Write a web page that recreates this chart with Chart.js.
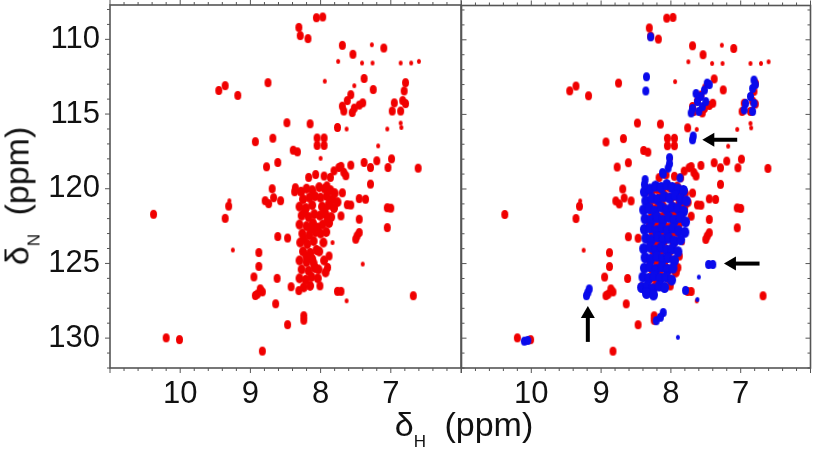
<!DOCTYPE html>
<html lang="en">
<head>
<meta charset="UTF-8">
<title>HSQC overlay</title>
<script src="https://cdn.jsdelivr.net/npm/chart.js"></script>
<style>
  body { margin: 0; background: #fff; }
  #wrap { position: relative; width: 816px; height: 450px; overflow: hidden;
          font-family: Arial, "Liberation Sans", sans-serif; color: #111; }
  canvas { position: absolute; top: 0; }
  #left { left: 0; }
  #right { left: 456px; }
  .ttl { position: absolute; font-size: 34px; line-height: 34px; white-space: nowrap;
         transform: translate(-50%, -50%); }
  .ttl sub { font-size: 17px; line-height: 0; vertical-align: -11px; margin-right: 9px; }
  #ytitle { left: 17px; top: 196px; transform: translate(-50%, -50%) rotate(-90deg); }
  #xtitle { left: 464px; top: 424px; }
</style>
</head>
<body>
<div id="wrap">
  <canvas id="left" width="466" height="450"></canvas>
  <canvas id="right" width="360" height="450"></canvas>
  <div class="ttl" id="ytitle">&delta;<sub>N</sub> (ppm)</div>
  <div class="ttl" id="xtitle">&delta;<sub>H</sub> (ppm)</div>
</div>
<script>
// tick labels
var xTicks = [10, 9, 8, 7];
var yTicks = [110, 115, 120, 125, 130];

// reference spectrum, [dH, dN] in ppm
var redPeaks = [
  [8.06,108.55],[7.97,108.5],[8.31,109.2],[8.29,109.75],[8.18,109.95],[7.69,110.4],[7.10,110.58],[7.54,111.0],
  [7.38,112.62],[7.25,113.36],[8.75,112.9],[9.45,113.42],[9.36,113.1],[9.18,113.75],
  [7.57,113.7],[7.62,114.1],[7.69,114.47],[7.67,114.8],[7.52,114.6],[7.45,114.4],[7.4,114.25],[7.55,114.9],
  [6.79,112.9],[6.81,113.45],[6.83,114.1],[6.79,114.3],[6.86,114.8],[6.95,114.25],[6.98,114.8],
  [7.76,115.9],[8.15,115.65],[8.48,115.58],
  [8.05,116.6],[7.95,116.6],[8.05,117.1],[7.95,117.1],
  [8.93,116.85],[8.68,116.62],[8.39,117.42],[8.33,117.53],[8.77,118.53],[8.61,118.24],
  [7.38,118.24],[7.29,118.58],[7.2,118.13],[6.99,118.0],[7.04,118.58],[6.61,118.62],
  [7.74,118.58],[7.67,118.9],[7.57,118.42],[7.64,119.13],[7.81,118.8],[7.71,118.5],
  [8.17,119.24],[8.07,119.05],[7.95,119.15],[7.86,119.24],[7.29,119.69],[7.91,119.8],
  [10.38,121.71],[9.31,121.16],[9.36,121.98],
  [8.69,120.0],[8.67,120.6],[8.79,120.8],[8.57,120.8],[8.74,121.0],[8.37,120.2],[8.36,119.93],
  [7.69,120.27],[7.62,121.07],[7.57,121.09],[7.45,120.66],[7.36,120.7],[7.05,121.27],[7.0,121.3],
  [7.45,122.04],[7.45,122.93],[7.5,123.38],[7.48,123.15],[7.05,122.6],[7.71,121.82],
  [8.61,123.2],[8.47,123.3],[8.88,124.27],[8.88,125.2],[8.95,125.9],[8.62,126.0],
  [8.86,126.7],[8.9,127.05],[8.83,126.9],[8.93,127.15],[8.64,127.7],[8.42,126.56],[8.31,126.82],[8.01,126.5],
  [7.76,126.87],[7.71,126.87],[8.24,128.5],[8.24,128.8],[8.47,129.1],[8.83,130.87],
  [10.2,129.98],[10.01,130.1],[6.68,127.16],[7.9,125.27],[7.88,124.5]
];
// crowded centre of the reference spectrum
var redCluster = [
  [8.28,120.2],[8.2,120.0],[8.12,120.1],[8.25,120.7],[8.16,120.6],[8.08,120.5],[8.3,121.2],[8.21,121.3],
  [8.12,121.1],[8.27,121.8],[8.17,121.9],[8.09,121.7],[8.3,122.4],[8.2,122.5],[8.11,122.3],[8.26,123.0],
  [8.16,123.1],[8.07,122.9],[8.29,123.6],[8.19,123.7],[8.1,123.5],[8.25,124.2],[8.15,124.3],[8.06,124.1],
  [8.3,124.8],[8.2,124.9],[8.12,124.7],[8.27,125.4],[8.17,125.5],[8.08,125.3],[8.3,126.0],[8.21,126.1],
  [8.13,125.9],[8.24,126.6],[8.15,126.5],[8.23,121.55],[8.14,122.7],[8.24,123.35],[8.2,124.55],[8.1,125.0],
  [8.02,119.9],[7.94,120.0],[7.86,120.1],[7.8,120.3],[8.0,120.6],[7.91,120.5],[7.83,120.7],[7.76,120.9],
  [7.98,121.2],[7.89,121.1],[7.81,121.3],[8.01,121.8],[7.93,121.7],[7.85,121.9],[7.97,122.4],[7.88,122.3],
  [8.0,123.0],[7.92,122.9],[7.96,123.6],[8.02,124.2],[7.95,124.8],[8.03,125.4],[7.93,125.6],[8.04,126.0],
  [7.95,121.45],[7.86,120.85],[7.9,122.1],[8.04,122.6]
];
var redWeak = [
  [7.27,110.36],[7.75,111.47],[7.41,111.58],[7.26,111.58],[6.86,111.58],[6.71,111.58],[6.6,111.47],
  [7.94,112.8],[7.52,113.1],[6.86,115.6],[6.85,115.9],[7.05,116.0],[7.63,116.0],[8.0,117.96],
  [7.18,117.13],[9.3,120.8],[9.25,124.1],[7.63,127.5],[7.4,125.04],[7.83,123.6]
];

// second spectrum, right panel only
var bluePeaks = [
  [8.29,109.8],[8.35,112.48],[8.36,113.43],
  [7.48,112.9],[7.52,113.37],[7.57,113.8],[7.62,114.14],[7.69,114.6],[7.71,114.9],[7.55,114.48],
  [7.6,114.8],[7.5,114.14],[7.64,113.6],[7.45,113.0],
  [6.81,112.7],[6.83,113.26],[6.86,113.8],[6.81,114.26],[6.83,114.8],[6.93,114.26],[6.95,114.7],[6.79,113.0],
  [7.69,116.7],[7.68,116.45],
  [8.02,117.9],[8.02,118.3],[8.04,118.6],[8.12,118.9],[8.11,119.0],[7.87,119.26],[8.37,119.37],[8.38,119.7],
  [7.79,126.8],[7.46,125.06],[7.4,125.06],
  [9.19,126.94],[9.17,126.7],[9.21,127.15],
  [10.1,130.2],[10.05,130.15],
  [8.21,128.83],[8.11,128.28],[8.15,128.6]
];
var blueCluster = [
  [8.38,120.2],[8.3,120.0],[8.22,119.8],[8.14,119.9],[8.06,119.7],[7.98,119.9],[7.9,120.0],[7.82,120.1],
  [8.36,120.8],[8.27,120.6],[8.19,120.7],[8.1,120.5],[8.02,120.6],[7.94,120.4],[7.86,120.7],[7.78,120.8],
  [8.39,121.4],[8.31,121.3],[8.23,121.5],[8.14,121.2],[8.06,121.4],[7.98,121.2],[7.9,121.3],[7.82,121.5],
  [8.37,122.0],[8.28,122.1],[8.2,121.9],[8.12,122.1],[8.03,121.9],[7.95,122.1],[7.87,121.9],[7.79,122.2],
  [8.38,122.7],[8.3,122.6],[8.21,122.8],[8.13,122.6],[8.05,122.8],[7.97,122.6],[7.89,122.8],[7.8,122.9],
  [8.36,123.3],[8.28,123.4],[8.19,123.2],[8.11,123.4],[8.03,123.3],[7.95,123.5],[7.86,123.4],
  [8.39,124.0],[8.3,123.9],[8.22,124.1],[8.14,123.9],[8.06,124.1],[7.98,124.0],[7.9,124.2],
  [8.37,124.6],[8.29,124.7],[8.2,124.5],[8.12,124.7],[8.04,124.6],[7.95,124.8],
  [8.38,125.3],[8.3,125.2],[8.21,125.4],[8.13,125.2],[8.05,125.4],[7.97,125.3],
  [8.4,125.9],[8.32,126.0],[8.24,125.8],[8.15,126.0],[8.07,125.9],[7.99,126.1],
  [8.42,126.6],[8.34,126.5],[8.26,126.7],[8.17,126.5],[8.09,126.6],[8.35,127.0],[8.25,127.1]
];
var blueWeak = [[7.62,127.4],[7.6,125.9],[7.9,129.94]];

// arrows in the right panel: tail -> tip
var arrows = [
  [[7.05,116.7],[7.55,116.7]],
  [[6.73,125.0],[7.24,125.0]],
  [[9.19,130.25],[9.19,127.85]]
];

var RED = 'rgb(240,0,0)';
var BLUE = 'rgb(10,10,235)';

// small oval used as the point marker (peaks are a bit taller than wide)
function blob(color, w, h) {
  var c = document.createElement('canvas');
  c.width = w + 2; c.height = h + 2;
  var g = c.getContext('2d');
  g.fillStyle = color;
  g.beginPath();
  g.ellipse(c.width / 2, c.height / 2, w / 2, h / 2, 0, 0, Math.PI * 2);
  g.fill();
  return c;
}

function pts(list) {
  return list.map(function (p) { return {x: p[0], y: p[1]}; });
}

function peakSet(list, color, w, h, order) {
  return {
    data: pts(list),
    backgroundColor: color,
    borderColor: color,
    pointStyle: blob(color, w, h),
    pointRadius: w / 2,
    order: order
  };
}

// box + small ticks round the panel
var frame = {
  id: 'frame',
  afterDraw: function (chart, args, opts) {
    var ctx = chart.ctx, a = chart.chartArea;
    var sx = chart.scales.x, sy = chart.scales.y;
    ctx.save();
    ctx.strokeStyle = '#555';
    ctx.lineWidth = 1;
    ctx.beginPath();
    for (var i = 30; i <= 55; i++) {
      var px = sx.getPixelForValue(i / 5);
      var len = (i % 5 === 0) ? 5 : 3;
      ctx.moveTo(px, a.bottom); ctx.lineTo(px, a.bottom + len);
      ctx.moveTo(px, a.top); ctx.lineTo(px, a.top - len);
    }
    for (var v = 108; v <= 132; v++) {
      var py = sy.getPixelForValue(v);
      var l = (v % 5 === 0) ? 5 : 3;
      if (opts.left === 'out') { ctx.moveTo(a.left, py); ctx.lineTo(a.left - l, py); }
      if (opts.left === 'in') { ctx.moveTo(a.left, py); ctx.lineTo(a.left + l, py); }
      if (opts.right === 'in') { ctx.moveTo(a.right, py); ctx.lineTo(a.right - l, py); }
    }
    ctx.stroke();
    ctx.lineWidth = 1.6;
    ctx.strokeRect(a.left, a.top, a.right - a.left, a.bottom - a.top);
    ctx.restore();
  }
};

var arrowPlugin = {
  id: 'arrows',
  afterDatasetsDraw: function (chart, args, opts) {
    if (!opts.list) return;
    var ctx = chart.ctx, sx = chart.scales.x, sy = chart.scales.y;
    ctx.save();
    ctx.fillStyle = '#000';
    ctx.strokeStyle = '#000';
    ctx.lineWidth = 4;
    opts.list.forEach(function (ar) {
      var x0 = sx.getPixelForValue(ar[0][0]), y0 = sy.getPixelForValue(ar[0][1]);
      var x1 = sx.getPixelForValue(ar[1][0]), y1 = sy.getPixelForValue(ar[1][1]);
      var ang = Math.atan2(y1 - y0, x1 - x0);
      var hl = 12, hw = 7;
      var bx = x1 - Math.cos(ang) * hl, by = y1 - Math.sin(ang) * hl;
      ctx.beginPath();
      ctx.moveTo(x0, y0);
      ctx.lineTo(bx + Math.cos(ang) * 2, by + Math.sin(ang) * 2);
      ctx.stroke();
      ctx.beginPath();
      ctx.moveTo(x1, y1);
      ctx.lineTo(bx - Math.sin(ang) * hw, by + Math.cos(ang) * hw);
      ctx.lineTo(bx + Math.sin(ang) * hw, by - Math.cos(ang) * hw);
      ctx.closePath();
      ctx.fill();
    });
    ctx.restore();
  }
};

function setupChart(elementId, datasets, withYLabels, pad, frameOpts, arrowList) {
  var ctx = document.getElementById(elementId).getContext('2d');
  return new Chart(ctx, {
    type: 'scatter',
    data: {datasets: datasets},
    plugins: [frame, arrowPlugin],
    options: {
      responsive: false,
      animation: false,
      events: [],
      layout: {padding: pad},
      plugins: {
        legend: {display: false},
        tooltip: {enabled: false},
        frame: frameOpts,
        arrows: {list: arrowList}
      },
      scales: {
        x: {
          type: 'linear', min: 6, max: 11, reverse: true,
          grid: {display: false}, border: {display: false},
          ticks: {font: {family: 'Arial', size: 31}, color: '#111', padding: 0},
          afterBuildTicks: function (s) { s.ticks = xTicks.map(function (v) { return {value: v}; }); },
          afterFit: function (s) { s.height = 82; s.paddingLeft = 0; s.paddingRight = 0; }
        },
        y: {
          type: 'linear', min: 107.7, max: 132, reverse: true,
          display: withYLabels,
          grid: {display: false}, border: {display: false},
          ticks: {font: {family: 'Arial', size: 31}, color: '#111', padding: 2},
          afterBuildTicks: function (s) { s.ticks = yTicks.map(function (v) { return {value: v}; }); },
          afterFit: function (s) {
            s.width = withYLabels ? 110 : 0;
            s.paddingTop = 0; s.paddingBottom = 0;
          }
        }
      }
    }
  });
}

var leftChart = setupChart('left', [
  peakSet(redWeak, RED, 4, 5, 1),
  peakSet(redPeaks, RED, 7, 9, 1),
  peakSet(redCluster, RED, 8, 10, 1)
], true, {left: 0, right: 5, top: 3, bottom: 0}, {left: 'out'}, null);

var rightChart = setupChart('right', [
  peakSet(redWeak, RED, 4, 5, 2),
  peakSet(redPeaks, RED, 7, 9, 2),
  peakSet(redCluster, RED, 8, 10, 2),
  peakSet(blueWeak, BLUE, 4, 5, 0),
  peakSet(bluePeaks, BLUE, 7, 9, 0),
  peakSet(blueCluster, BLUE, 9, 11, 0)
], false, {left: 5, right: 3, top: 3, bottom: 0}, {left: 'in', right: 'in'}, arrows);
</script>
</body>
</html>
